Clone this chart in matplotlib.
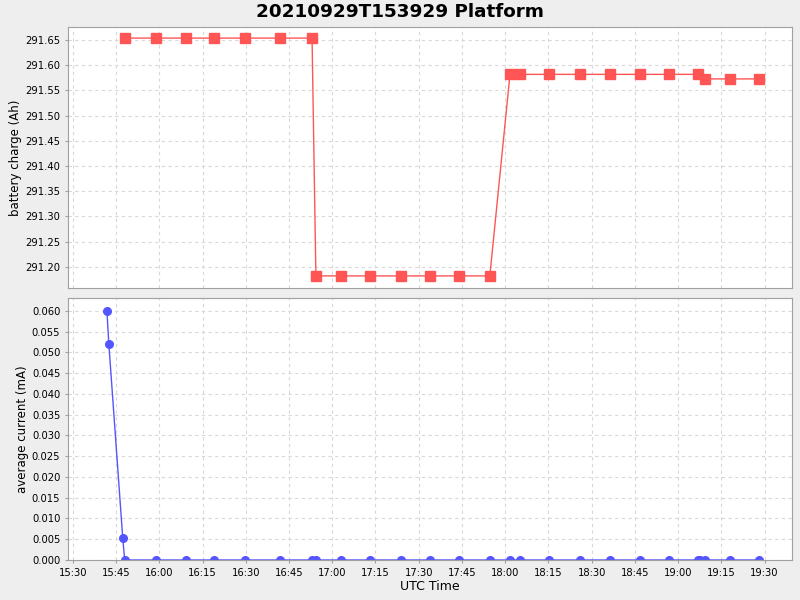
import matplotlib
matplotlib.use("Agg")
import matplotlib.pyplot as plt
from matplotlib.ticker import FuncFormatter, MultipleLocator

# sample times (UTC) and values
charge_times = ["15:48:00", "15:58:50", "16:09:10", "16:19:00", "16:29:40", "16:42:00",
                "16:53:00", "16:54:20", "17:03:00", "17:13:00", "17:23:50", "17:33:50",
                "17:43:50", "17:54:40", "18:01:40", "18:05:00", "18:15:10", "18:26:00",
                "18:36:20", "18:46:40", "18:57:00", "19:06:50", "19:09:10", "19:18:00",
                "19:28:00"]
charge_ah = [291.654, 291.654, 291.654, 291.654, 291.654, 291.654,
             291.654, 291.182, 291.182, 291.182, 291.182, 291.182,
             291.182, 291.182, 291.582, 291.582, 291.582, 291.582,
             291.582, 291.582, 291.582, 291.582, 291.573, 291.573,
             291.573]

current_times = ["15:41:50", "15:42:30", "15:47:20", "15:48:00", "15:58:50", "16:09:10",
                 "16:19:00", "16:29:40", "16:42:00", "16:53:00", "16:54:20", "17:03:00",
                 "17:13:00", "17:23:50", "17:33:50", "17:43:50", "17:54:40", "18:01:40",
                 "18:05:00", "18:15:10", "18:26:00", "18:36:20", "18:46:40", "18:57:00",
                 "19:06:50", "19:07:30", "19:09:10", "19:18:00", "19:28:00"]
current_ma = [0.060, 0.052, 0.0052, 0.0, 0.0, 0.0,
              0.0, 0.0, 0.0, 0.0, 0.0, 0.0,
              0.0, 0.0, 0.0, 0.0, 0.0, 0.0,
              0.0, 0.0, 0.0, 0.0, 0.0, 0.0,
              0.0, 0.0, 0.0, 0.0, 0.0]


def to_min(s):
    h, m, sec = s.split(":")
    return int(h) * 60 + int(m) + int(sec) / 60.0


def fmt_time(v, pos):
    v = int(round(v))
    return "%d:%02d" % (v // 60, v % 60)


tc = [to_min(t) for t in charge_times]
ti = [to_min(t) for t in current_times]

bg = "#EEEEEE"
fig = plt.figure(figsize=(8, 6), dpi=100, facecolor=bg)
ax1 = fig.add_axes([0.085, 0.52, 0.905, 0.435])
ax2 = fig.add_axes([0.085, 0.0667, 0.905, 0.4367], sharex=ax1)

fig.text(0.5, 0.98, "20210929T153929 Platform", ha="center", va="center",
         fontsize=13.2, fontweight="bold")

ax1.plot(tc, charge_ah, color="#FF5555", lw=1, marker="s", ms=6.5)
ax2.plot(ti, current_ma, color="#5555FF", lw=1, marker="o", ms=5.5)

for ax in (ax1, ax2):
    ax.set_facecolor("white")
    ax.grid(True, color="#D8D8D8", ls=(0, (3, 3)), lw=0.8)
    ax.set_axisbelow(True)
    for s in ax.spines.values():
        s.set_color("#A0A0A0")
    ax.tick_params(labelsize=7.2, length=2, color="#A0A0A0")
    ax.xaxis.set_major_locator(MultipleLocator(15))
    ax.xaxis.set_major_formatter(FuncFormatter(fmt_time))

ax1.set_xlim(to_min("15:28:20"), to_min("19:39:30"))
ax1.set_ylim(291.158, 291.676)
ax1.yaxis.set_major_locator(MultipleLocator(0.05))
ax1.yaxis.set_major_formatter(FuncFormatter(lambda v, p: "%.2f" % v))
ax1.tick_params(axis="x", labelbottom=False, length=0)
ax1.set_ylabel("battery charge (Ah)", fontsize=8.5, labelpad=2)

ax2.set_ylim(0, 0.0631)
ax2.yaxis.set_major_locator(MultipleLocator(0.005))
ax2.yaxis.set_major_formatter(FuncFormatter(lambda v, p: "%.3f" % v))
ax2.set_ylabel("average current (mA)", fontsize=8.5, labelpad=2)
ax2.set_xlabel("UTC Time", fontsize=9, labelpad=2)

fig.savefig("out.png", dpi=100, facecolor=bg)
